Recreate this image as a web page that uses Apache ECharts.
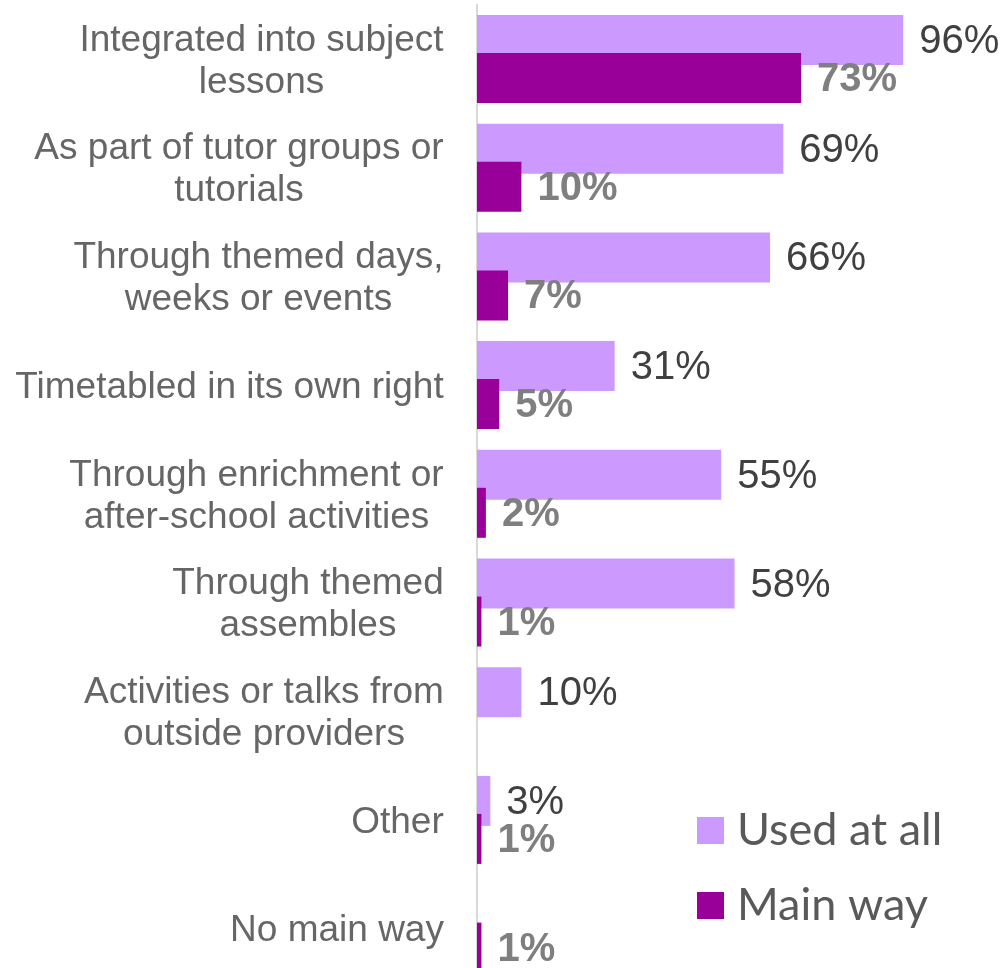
<!DOCTYPE html>
<html>
<head>
<meta charset="utf-8">
<script src="https://cdn.jsdelivr.net/npm/echarts@6/dist/echarts.min.js"></script>
<style>
  html, body { margin: 0; padding: 0; background: #ffffff; overflow: hidden; }
  #chart { width: 1005px; height: 984px; }
</style>
</head>
<body>
<div id="chart"></div>
<script>
// Ways the topic is delivered, top to bottom
const categories = [
  'Integrated into subject\nlessons',
  'As part of tutor groups or\ntutorials',
  'Through themed days,\nweeks or events',
  'Timetabled in its own right',
  'Through enrichment or\nafter-school activities',
  'Through themed\nassembles',
  'Activities or talks from\noutside providers',
  'Other',
  'No main way'
];
const seriesNames = ['Used at all', 'Main way'];
// Percentages; null where no bar is shown
const usedAtAll = [96, 69, 66, 31, 55, 58, 10, 3, null];
const mainWay = [73, 10, 7, 5, 2, 1, null, 1, 1];

const chart = echarts.init(document.getElementById('chart'), null, { renderer: 'canvas' });

const labelFont = '"Liberation Sans", Arial, sans-serif';
const catFontSize = 37;
const catColor = '#666666';

// Each category label is a block whose lines are centred on each other,
// with the block as a whole right-aligned against the axis.
const measureCtx = document.createElement('canvas').getContext('2d');
measureCtx.font = catFontSize + 'px ' + labelFont;
const rich = {};
categories.forEach((c, i) => {
  const w = Math.max(...c.split('\n').map(l => measureCtx.measureText(l).width));
  rich['c' + i] = {
    width: Math.ceil(w),
    align: 'center',
    fontFamily: labelFont,
    fontSize: catFontSize,
    lineHeight: 42,
    color: catColor
  };
});

chart.setOption({
  animation: false,
  backgroundColor: '#ffffff',
  grid: { left: 477, top: 4.65, width: 444, height: 978.3, containLabel: false },
  xAxis: {
    type: 'value', min: 0, max: 100, show: false
  },
  yAxis: {
    type: 'category',
    data: categories,
    inverse: true,
    axisLine: { show: true, lineStyle: { color: '#d9d9d9', width: 2 } },
    axisTick: { show: false },
    splitLine: { show: false },
    axisLabel: {
      margin: 33,
      color: catColor,
      fontFamily: labelFont,
      fontSize: catFontSize,
      lineHeight: 42,
      align: 'right',
      padding: [5, 0, 0, 0],
      formatter: (value, index) =>
        value.split('\n').map(l => '{c' + index + '|' + l + '}').join('\n'),
      rich: rich
    }
  },
  legend: {
    orient: 'vertical',
    left: 697,
    top: 808,
    padding: 0,
    itemWidth: 27,
    itemHeight: 27,
    itemGap: 30,
    icon: 'rect',
    data: seriesNames,
    textStyle: {
      fontFamily: 'Lato, "Open Sans", sans-serif',
      fontSize: 45,
      color: '#595959',
      padding: [0, 0, 0, 8]
    }
  },
  series: [
    {
      name: seriesNames[0],
      type: 'bar',
      data: usedAtAll,
      barWidth: 50,
      barGap: '-24%',
      itemStyle: { color: '#cc99ff' },
      label: {
        show: true,
        position: 'right',
        distance: 16,
        offset: [0, 2],
        formatter: p => p.value == null ? '' : p.value + '%',
        fontFamily: labelFont,
        fontSize: 40,
        color: '#404040'
      }
    },
    {
      name: seriesNames[1],
      type: 'bar',
      data: mainWay,
      barWidth: 50,
      barGap: '-24%',
      itemStyle: { color: '#990099' },
      label: {
        show: true,
        position: 'right',
        distance: 16,
        offset: [0, 2],
        formatter: p => p.value == null ? '' : p.value + '%',
        fontFamily: labelFont,
        fontSize: 40,
        fontWeight: 'bold',
        color: '#7f7f7f'
      }
    }
  ]
});
</script>
</body>
</html>
